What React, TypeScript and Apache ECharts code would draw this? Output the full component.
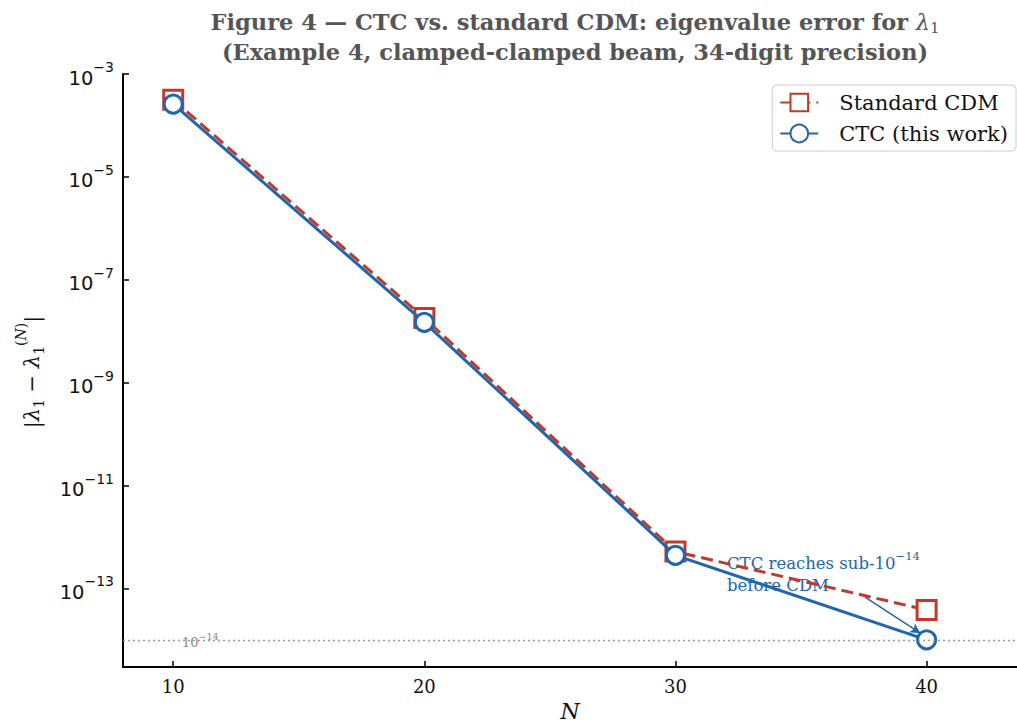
import React, { useEffect, useRef } from "react";
import * as echarts from "echarts";

const N_VALUES = [10, 20, 30, 40];
const CDM_ERR = [3.15e-4, 1.8e-8, 5.2e-13, 3.8e-14];
const CTC_ERR = [2.6e-4, 1.49e-8, 4.4e-13, 1.0e-14];
const X_TICKS = [10, 20, 30, 40];
const Y_TICK_EXP = [-3, -5, -7, -9, -11, -13];
const REF_LEVEL = 1e-14;
const ARROW_FROM: [number, number] = [37.55, -13.17];
const ARROW_TO: [number, number] = [39.75, -13.87];

const RED = "#c0392b";
const BLUE = "#2166ac";
const SERIF = "DejaVu Serif";

export default function App() {
  const ref = useRef<HTMLDivElement>(null);
  useEffect(() => {
    if (!ref.current) return;
    const chart = echarts.init(ref.current, undefined, { renderer: "svg" });
    const cdm = N_VALUES.map((n, i) => [n, Math.log10(CDM_ERR[i])]);
    const ctc = N_VALUES.map((n, i) => [n, Math.log10(CTC_ERR[i])]);
    const option: any = {
      animation: false,
      backgroundColor: "#fff",
      grid: { left: 123, right: 0, top: 74, bottom: 56, containLabel: false },
      xAxis: {
        type: "value",
        min: 8,
        max: 43.6,
        name: "N",
        nameLocation: "middle",
        nameGap: 31,
        nameTextStyle: { fontFamily: SERIF, fontStyle: "italic", fontSize: 22, color: "#111" },
        axisLine: { show: true, onZero: false, lineStyle: { color: "#000", width: 2 } },
        axisTick: { show: true, inside: true, length: 6, customValues: X_TICKS, lineStyle: { color: "#000", width: 1.5 } },
        axisLabel: { customValues: X_TICKS, fontFamily: SERIF, fontSize: 18, color: "#111", margin: 10 },
        splitLine: { show: false },
      },
      yAxis: {
        type: "value",
        min: -14.53,
        max: -3,
        axisLine: { show: true, onZero: false, lineStyle: { color: "#000", width: 2 } },
        axisTick: { show: true, inside: true, length: 6, customValues: Y_TICK_EXP, lineStyle: { color: "#000", width: 1.5 } },
        axisLabel: {
          customValues: Y_TICK_EXP,
          margin: 9,
          formatter: (v: number) => `{b|10}{s|−${Math.abs(Math.round(v))}}`,
          rich: {
            b: { fontFamily: "DejaVu Sans", fontSize: 19.5, color: "#111", lineHeight: 28, verticalAlign: "bottom" },
            s: { fontFamily: "DejaVu Sans", fontSize: 14, color: "#111", lineHeight: 28, verticalAlign: "top" },
          },
        },
        splitLine: { show: false },
      },
      legend: {
        orient: "vertical",
        right: 1,
        top: 85,
        itemWidth: 38,
        itemHeight: 22,
        itemGap: 10,
        padding: [7, 8, 7, 7],
        borderColor: "#ccc",
        borderWidth: 1,
        borderRadius: 4,
        backgroundColor: "#fff",
        textStyle: { fontFamily: SERIF, fontSize: 21, color: "#111", padding: [0, 0, 0, 16] },
        data: ["Standard CDM", "CTC (this work)"],
      },
      series: [
        {
          name: "Standard CDM",
          type: "line",
          data: cdm,
          symbol: "rect",
          symbolSize: 19,
          lineStyle: { color: RED, width: 3, type: [12, 6] },
          itemStyle: { color: "#fff", borderColor: RED, borderWidth: 3 },
          markLine: {
            silent: true,
            symbol: ["none", "none"],
            label: { show: false },
            lineStyle: { color: "#999", type: [2, 3], width: 1.3 },
            data: [{ yAxis: Math.log10(REF_LEVEL) }],
          },
          z: 3,
        },
        {
          name: "CTC (this work)",
          type: "line",
          data: ctc,
          symbol: "circle",
          symbolSize: 18,
          lineStyle: { color: BLUE, width: 3, type: "solid" },
          itemStyle: { color: "#fff", borderColor: BLUE, borderWidth: 3 },
          markLine: {
            silent: true,
            symbol: ["none", "arrow"],
            symbolSize: [8, 10],
            label: { show: false },
            lineStyle: { color: BLUE, type: "solid", width: 1.5 },
            data: [[{ coord: ARROW_FROM }, { coord: ARROW_TO }]],
          },
          z: 4,
        },
      ],
      graphic: [
        {
          type: "text",
          x: 575,
          y: 7,
          style: {
            text:
              "{t|Figure 4 — CTC vs. standard CDM: eigenvalue error for }{l|λ}{ls|1}\n{t|(Example 4, clamped-clamped beam, 34-digit precision)}",
            textAlign: "center",
            rich: {
              t: { fontFamily: SERIF, fontWeight: "bold", fontSize: 22.5, fill: "#555", lineHeight: 30, verticalAlign: "middle" },
              l: { fontFamily: SERIF, fontStyle: "italic", fontSize: 22, fill: "#555", lineHeight: 30, verticalAlign: "middle" },
              ls: { fontFamily: SERIF, fontSize: 15, fill: "#555", lineHeight: 30, verticalAlign: "bottom", padding: [0, 0, 2, 0] },
            },
          },
        },
        {
          type: "text",
          x: 32,
          y: 372,
          rotation: Math.PI / 2,
          style: {
            text: "{m||}{mi|λ}{sub|1}{m| − }{mi|λ}{sub|1}{sup|(}{supi|N}{sup|)}{m||}",
            textAlign: "center",
            textVerticalAlign: "middle",
            rich: {
              m: { fontFamily: SERIF, fontSize: 21, fill: "#111", lineHeight: 36, verticalAlign: "middle" },
              mi: { fontFamily: SERIF, fontStyle: "italic", fontSize: 21, fill: "#111", lineHeight: 36, verticalAlign: "middle" },
              sub: { fontFamily: SERIF, fontSize: 14, fill: "#111", lineHeight: 36, verticalAlign: "bottom", padding: [0, 0, 4, 0] },
              sup: { fontFamily: SERIF, fontSize: 14, fill: "#111", lineHeight: 36, verticalAlign: "top" },
              supi: { fontFamily: SERIF, fontStyle: "italic", fontSize: 14, fill: "#111", lineHeight: 36, verticalAlign: "top" },
            },
          },
        },
        {
          type: "text",
          x: 727,
          y: 550,
          style: {
            text: "{a|CTC reaches sub-10}{s|−14}\n{a|before CDM}",
            rich: {
              a: { fontFamily: SERIF, fontSize: 16.5, fill: BLUE, lineHeight: 22, verticalAlign: "bottom" },
              s: { fontFamily: SERIF, fontSize: 11.5, fill: BLUE, lineHeight: 22, verticalAlign: "top" },
            },
          },
        },
        {
          type: "text",
          x: 182,
          y: 631,
          style: {
            text: "{a|10}{s|−14}",
            rich: {
              a: { fontFamily: SERIF, fontSize: 13, fill: "#888", lineHeight: 18, verticalAlign: "bottom" },
              s: { fontFamily: SERIF, fontSize: 9.5, fill: "#888", lineHeight: 18, verticalAlign: "top" },
            },
          },
        },
      ],
    };
    chart.setOption(option);
    return () => chart.dispose();
  }, []);
  return <div ref={ref} style={{ width: 1017, height: 727, position: "absolute", left: 0, top: 0 }} />;
}
